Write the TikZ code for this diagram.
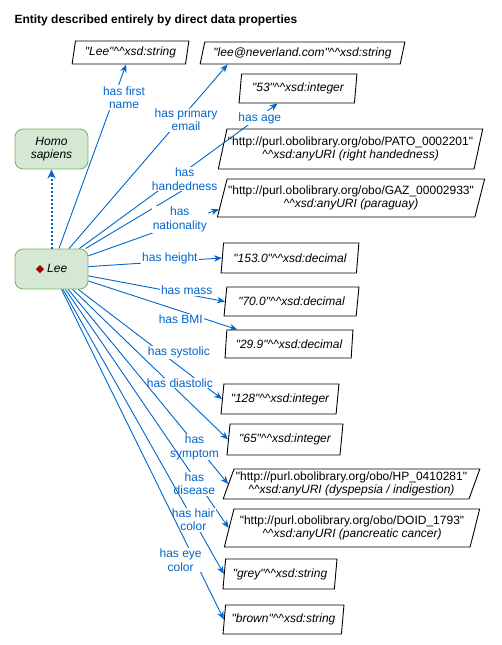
\documentclass[tikz,border=0pt]{standalone}
\usepackage{fontspec}
\setmainfont{Liberation Sans}[Ligatures=TeXOff]
\newfontfamily\symfont{DejaVu Sans}
\usetikzlibrary{shapes.geometric,arrows.meta,calc}

\newcommand{\xsd}{\textasciicircum\textasciicircum xsd}

\begin{document}
\begin{tikzpicture}[x=1pt,y=-1pt,
  font=\fontsize{12}{13.5}\selectfont,
  ent/.style={draw=entBorder, fill=entFill, line width=0.9pt, rounded corners=8pt,
    minimum width=73pt, minimum height=40pt, inner sep=2pt, align=center},
  lit/.style={trapezium, trapezium left angle=#1, trapezium right angle={180-#1},
    trapezium stretches=true, draw=black, fill=white, line width=0.9pt,
    align=center, inner sep=1pt},
  lit/.default=78,
  lbl/.style={fill=white, text=linkBlue, align=center, inner sep=1pt},
  prop/.style={draw=linkBlue, line width=0.9pt, -{Stealth[length=8pt,width=6.5pt]}},
  tipo/.style={draw=linkBlue, line width=2pt, dotted, -{Stealth[length=9pt,width=8pt]}}]

% Colori
\definecolor{entFill}{HTML}{D5E8D4}
\definecolor{entBorder}{HTML}{82B366}
\definecolor{linkBlue}{HTML}{0066CC}
\definecolor{diamRed}{HTML}{A20000}

\useasboundingbox (0,0) rectangle (501,645);

% Titolo
\node[anchor=west, font=\bfseries\fontsize{12}{14}\selectfont] (title) at (11,20)
  {Entity described entirely by direct data properties};

% Entita
\node[ent] (homo) at (51.5,149) {\itshape Homo\\\itshape sapiens};
\node[ent] (lee) at (51.5,269) {{\symfont\fontsize{11}{11}\selectfont\color{diamRed}◆}\hspace{3pt}\itshape Lee};

% Letterali
\node[lit=78, minimum width=117pt, minimum height=23pt] (fname) at (130.5,52.5)
  {\itshape "Lee"\xsd:string};
\node[lit=72, minimum width=205pt, minimum height=22pt] (email) at (302.5,53)
  {\itshape "lee@neverland.com"\xsd:string};
\node[lit=81, minimum width=118pt, minimum height=29pt] (age) at (298,88.5)
  {\itshape "53"\xsd:integer};
\node[lit=72, minimum width=263pt, minimum height=40pt] (hand) at (350.5,149)
  {"http://purl.obolibrary.org/obo/PATO\_0002201"\\{\itshape \xsd:anyURI (right handedness)}};
\node[lit=70, minimum width=258pt, minimum height=38pt] (nation) at (351,198)
  {"http://purl.obolibrary.org/obo/GAZ\_00002933"\\{\itshape \xsd:anyURI (paraguay)}};
\node[lit=79, minimum width=138pt, minimum height=30pt] (height) at (290,258)
  {\itshape "153.0"\xsd:decimal};
\node[lit=78, minimum width=135pt, minimum height=29pt] (mass) at (291.5,301.5)
  {\itshape "70.0"\xsd:decimal};
\node[lit=82, minimum width=128pt, minimum height=28pt] (bmi) at (289,344)
  {\itshape "29.9"\xsd:decimal};
\node[lit=79, minimum width=118pt, minimum height=30pt] (sys) at (280,399)
  {\itshape "128"\xsd:integer};
\node[lit=79, minimum width=116pt, minimum height=31pt] (dia) at (285,439.5)
  {\itshape "65"\xsd:integer};
\node[lit=68, minimum width=257pt, minimum height=30pt] (symptom) at (351.5,484)
  {"http://purl.obolibrary.org/obo/HP\_0410281"\\{\itshape \xsd:anyURI (dyspepsia / indigestion)}};
\node[lit=71, minimum width=256pt, minimum height=38pt] (disease) at (352,528)
  {"http://purl.obolibrary.org/obo/DOID\_1793"\\{\itshape \xsd:anyURI (pancreatic cancer)}};
\node[lit=80, minimum width=114pt, minimum height=30pt] (hair) at (280,574)
  {\itshape "grey"\xsd:string};
\node[lit=80, minimum width=121pt, minimum height=29pt] (eye) at (283.5,619.5)
  {\itshape "brown"\xsd:string};

% Sottoclasse
\draw[tipo] (lee) -- (homo);

% Proprieta
\draw[prop] (lee) -- node[lbl, pos=0.82, xshift=10pt] {has first\\name} (fname);
\draw[prop] (lee) -- node[lbl, pos=0.70, xshift=6pt] {has primary\\email}
  ($(email.bottom left corner)+(28,0)$);
\draw[prop] (lee) -- node[lbl, pos=0.9, xshift=2pt] {has age} (age);
\draw[prop] (lee) -- node[lbl, pos=0.75, yshift=10pt] {has\\handedness} (hand.bottom left corner);
\draw[prop] (lee) -- node[lbl, pos=0.70, yshift=4pt] {has\\nationality}
  ($(nation.bottom left corner)!0.21!(nation.top left corner)$);
\draw[prop] (lee) -- node[lbl, pos=0.61, yshift=3pt] {has height} (height.west);
\draw[prop] (lee) -- node[lbl, pos=0.72, yshift=4pt] {has mass} (mass.west);
\draw[prop] (lee) -- node[lbl, pos=0.62, yshift=-8pt] {has BMI}
  ($(bmi.top left corner)+(11,0)$);
\draw[prop] (lee) -- node[lbl, pos=0.70, yshift=14pt] {has systolic} (sys.west);
\draw[prop] (lee) -- node[lbl, pos=0.69, yshift=10pt] {has diastolic} (dia.west);
\draw[prop] (lee) -- node[lbl, pos=0.79, yshift=-4pt] {has\\symptom} (symptom.west);
\draw[prop] (lee) -- node[lbl, pos=0.79, yshift=-6pt] {has\\disease} (disease.west);
\draw[prop] (lee) -- node[lbl, pos=0.81] {has hair\\color} (hair.west);
\draw[prop] (lee) -- node[lbl, pos=0.82, xshift=-14pt] {has eye\\color} (eye.west);

\end{tikzpicture}
\end{document}
